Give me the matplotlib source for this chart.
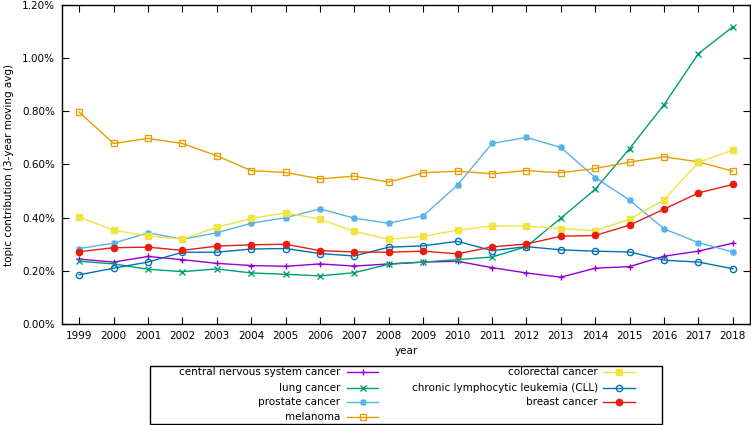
import matplotlib
matplotlib.use("Agg")
import matplotlib.pyplot as plt
from matplotlib.lines import Line2D
from matplotlib.patches import Rectangle
from matplotlib.ticker import FuncFormatter, MultipleLocator

years = list(range(1999, 2019))

# topic contribution in percent (3-year moving avg)
cns = [0.244, 0.233, 0.254, 0.242, 0.228, 0.220, 0.217, 0.226, 0.218, 0.226,
       0.233, 0.236, 0.212, 0.192, 0.176, 0.210, 0.216, 0.255, 0.274, 0.304]
lung = [0.236, 0.226, 0.206, 0.197, 0.207, 0.192, 0.187, 0.181, 0.193, 0.225,
        0.233, 0.242, 0.252, 0.291, 0.398, 0.507, 0.660, 0.825, 1.017, 1.118]
prostate = [0.284, 0.304, 0.343, 0.319, 0.343, 0.379, 0.400, 0.433, 0.398, 0.379,
            0.407, 0.523, 0.679, 0.702, 0.664, 0.551, 0.466, 0.358, 0.306, 0.271]
melanoma = [0.797, 0.679, 0.698, 0.679, 0.633, 0.577, 0.570, 0.546, 0.556, 0.534,
            0.569, 0.575, 0.565, 0.577, 0.569, 0.585, 0.609, 0.629, 0.610, 0.575]
colorectal = [0.402, 0.353, 0.331, 0.319, 0.364, 0.397, 0.418, 0.394, 0.348, 0.319,
              0.330, 0.353, 0.369, 0.368, 0.359, 0.351, 0.394, 0.467, 0.608, 0.654]
cll = [0.185, 0.210, 0.233, 0.270, 0.270, 0.282, 0.284, 0.265, 0.256, 0.289,
       0.294, 0.311, 0.276, 0.291, 0.279, 0.274, 0.271, 0.240, 0.233, 0.208]
breast = [0.272, 0.287, 0.289, 0.277, 0.293, 0.298, 0.300, 0.276, 0.271, 0.270,
          0.274, 0.264, 0.290, 0.301, 0.330, 0.333, 0.372, 0.432, 0.493, 0.525]

labels = ["central nervous system cancer", "lung cancer", "prostate cancer",
          "melanoma", "colorectal cancer", "chronic lymphocytic leukemia (CLL)",
          "breast cancer"]
series = [cns, lung, prostate, melanoma, colorectal, cll, breast]

# gnuplot default look
colors = ["#9400d3", "#009e73", "#56b4e9", "#e69f00", "#f0e442", "#0072b2", "#e51e10"]
markers = ["+", "x", (8, 2, 0), "s", "s", "o", "o"]
filled = [True, True, True, False, True, False, True]
msizes = [5, 4.5, 5, 4.5, 4.5, 4.5, 4.5]

plt.rcParams["font.family"] = "DejaVu Sans"
plt.rcParams["font.size"] = 7.5

fig = plt.figure(figsize=(7.51, 4.25), dpi=100)
ax = fig.add_axes([62 / 751, 1 - 324 / 425, 688 / 751, 319 / 425])


def style(i):
    return dict(color=colors[i], lw=1.0, marker=markers[i], ms=msizes[i],
                mew=1.0, mfc=colors[i] if filled[i] else "none", mec=colors[i])


for i, ys in enumerate(series):
    ax.plot(years, ys, **style(i), zorder=3)

ax.set_xlim(1998.5, 2018.5)
ax.set_ylim(0, 1.2)
ax.set_xticks(years)
ax.yaxis.set_major_locator(MultipleLocator(0.2))
ax.yaxis.set_major_formatter(FuncFormatter(lambda v, p: f"{v:.2f}%"))
ax.tick_params(direction="in", top=True, right=True, length=5, width=0.8,
               labelsize=7.5, pad=5)
for s in ax.spines.values():
    s.set_linewidth(1.0)
ax.set_xlabel("year", labelpad=4)
ax.set_ylabel("topic contribution (3-year moving avg)", labelpad=6)

# gnuplot-like key below the plot: right-aligned text then sample
box_l, box_r, box_t, box_b = 150, 662, 365.5, 424
fig.add_artist(Rectangle((box_l / 751, 1 - box_b / 425),
                         (box_r - box_l) / 751, (box_b - box_t) / 425,
                         transform=fig.transFigure, fill=False, lw=1.0,
                         ec="black"))
rows_y = [372.3, 387.7, 401.7, 416.7]
cols = [(340, 347, 378), (598, 603, 635)]
for i, lab in enumerate(labels):
    c = 0 if i < 4 else 1
    r = i if i < 4 else i - 4
    tx, x0, x1 = cols[c]
    y = 1 - rows_y[r] / 425
    fig.text(tx / 751, y, lab, ha="right", va="center", fontsize=7.5)
    fig.add_artist(Line2D([x0 / 751, x1 / 751], [y, y], transform=fig.transFigure,
                          color=colors[i], lw=1.0))
    fig.add_artist(Line2D([(x0 + x1) / 2 / 751], [y], transform=fig.transFigure,
                          **{k: v for k, v in style(i).items() if k not in ("lw",)},
                          linestyle="none"))

fig.savefig("out.png", dpi=100)
